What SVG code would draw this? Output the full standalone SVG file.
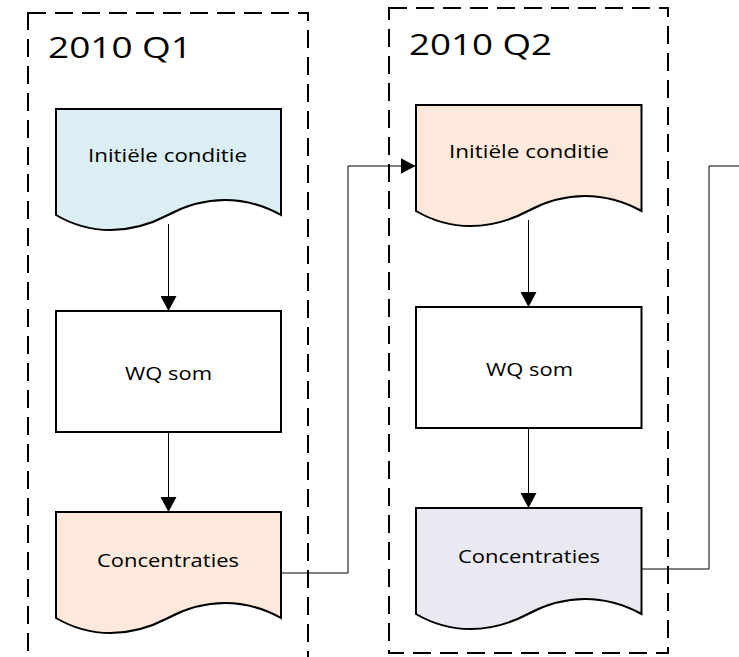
<svg xmlns="http://www.w3.org/2000/svg" width="739" height="657" viewBox="0 0 739 657">
<defs>
<style>
.cont{fill:none;stroke:#000;stroke-width:2;stroke-dasharray:18 9}
.node{stroke:#000;stroke-width:2}
.title{font-family:"Open Sans","Noto Sans",sans-serif;font-size:30px;fill:#000}
.lbl{font-family:"Open Sans","Noto Sans",sans-serif;font-size:18px;fill:#000;text-anchor:middle}
.conn{fill:none;stroke:#000;stroke-width:1}
</style>
<marker id="arr" markerWidth="15" markerHeight="16" viewBox="0 0 15 16" refX="15" refY="8" orient="auto" markerUnits="userSpaceOnUse">
<path d="M0,0 L15,8 L0,16 Z" fill="#000"/>
</marker>
</defs>
<rect width="739" height="657" fill="#fff"/>
<g id="container-q1">
<rect class="cont" x="28" y="13" width="280" height="660"/>
<text class="title" x="48" y="58" textLength="144" lengthAdjust="spacingAndGlyphs">2010 Q1</text>
</g>
<g id="container-q2">
<rect class="cont" x="389" y="8" width="279" height="645"/>
<text class="title" x="409" y="55" textLength="143" lengthAdjust="spacingAndGlyphs">2010 Q2</text>
</g>
<g id="connectors">
<path class="conn" d="M168.5,224 V311" marker-end="url(#arr)"/>
<path class="conn" d="M168.5,432 V512" marker-end="url(#arr)"/>
<path class="conn" d="M281,573 H348 V166 H415.5" marker-end="url(#arr)"/>
<path class="conn" d="M528.5,220 V307" marker-end="url(#arr)"/>
<path class="conn" d="M528.5,428 V508" marker-end="url(#arr)"/>
<path class="conn" d="M641.5,569 H709 V166 H739"/>
</g>
<g id="q1-init">
<path class="node" fill="#DAEEF3" d="M56,109 H281 V215 C245,195 205,195 168,215 C130,235 90,235 56,215 Z"/>
<text class="lbl" x="167.5" y="162" textLength="159" lengthAdjust="spacingAndGlyphs">Initiële conditie</text>
</g>
<g id="q1-wq">
<rect class="node" fill="#fff" x="56" y="311" width="225" height="121"/>
<text class="lbl" x="168.5" y="380" textLength="87" lengthAdjust="spacingAndGlyphs">WQ som</text>
</g>
<g id="q1-conc">
<path class="node" fill="#FCE9DB" d="M56,512 H281 V618 C245,598 205,598 168,618 C130,638 90,638 56,618 Z"/>
<text class="lbl" x="168" y="567" textLength="142" lengthAdjust="spacingAndGlyphs">Concentraties</text>
</g>
<g id="q2-init">
<path class="node" fill="#FCE9DB" d="M416,105 H641.5 V211 C605,191 565,191 528,211 C490,231 450,231 416,211 Z"/>
<text class="lbl" x="529" y="158" textLength="160" lengthAdjust="spacingAndGlyphs">Initiële conditie</text>
</g>
<g id="q2-wq">
<rect class="node" fill="#fff" x="416" y="307" width="225.5" height="121"/>
<text class="lbl" x="529.5" y="376" textLength="87" lengthAdjust="spacingAndGlyphs">WQ som</text>
</g>
<g id="q2-conc">
<path class="node" fill="#EAE8F0" d="M416,508 H641.5 V614 C605,594 565,594 528,614 C490,634 450,634 416,614 Z"/>
<text class="lbl" x="529" y="563" textLength="142" lengthAdjust="spacingAndGlyphs">Concentraties</text>
</g>
</svg>
